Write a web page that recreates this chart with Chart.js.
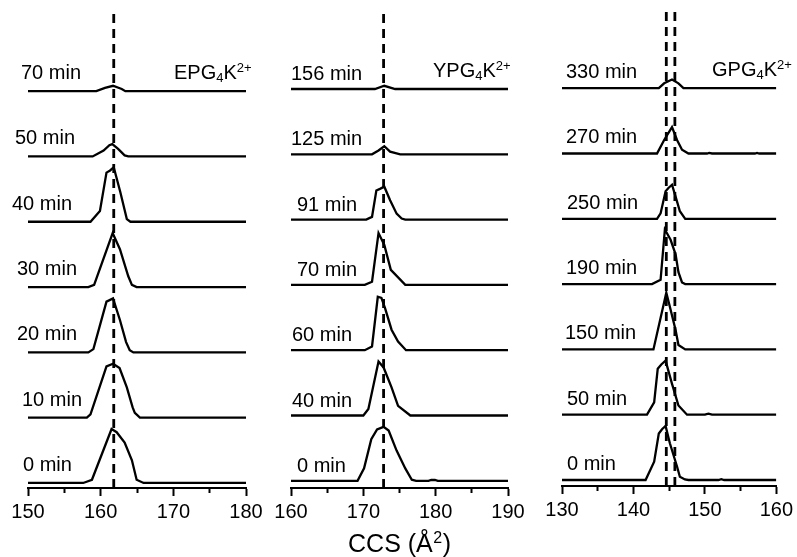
<!DOCTYPE html>
<html>
<head>
<meta charset="utf-8">
<script src="https://cdn.jsdelivr.net/npm/chart.js@4.4.1/dist/chart.umd.min.js"></script>
<style>
  html, body { margin: 0; padding: 0; background: #fff; }
  #wrap { position: relative; width: 797px; height: 557px; }
  #wrap canvas { position: absolute; left: 0; top: 0; }
</style>
</head>
<body>
<div id="wrap">
  <canvas id="epgChart" width="797" height="557"></canvas>
  <canvas id="ypgChart" width="797" height="557"></canvas>
  <canvas id="gpgChart" width="797" height="557"></canvas>
</div>
<script>
// ---- data: [CCS (A^2), relative intensity %] per trace, bottom trace first ----

// EPG4K2+
const epgRange = [150, 180];
const epgTimes = ['0 min', '10 min', '20 min', '30 min', '40 min', '50 min', '70 min'];
const epg0  = [[150,0],[157.6,0],[158.8,6],[161.5,100],[162.2,94],[163.3,75],[164.3,42],[164.95,6],[165.9,0],[180,0]];
const epg10 = [[150,0],[158.1,0],[158.6,6],[160.8,95],[161.7,100],[162.6,92],[163.6,56],[164.4,19],[164.7,9],[165.4,0],[180,0]];
const epg20 = [[150,0],[158.3,0],[159.0,6],[160.8,94],[161.7,100],[162.65,60],[163.5,19],[164.0,4],[164.5,0],[180,0]];
const epg30 = [[150,0],[158.3,0],[159.1,4],[161.65,100],[162.65,70],[163.8,20],[164.3,4],[164.95,0],[180,0]];
const epg40 = [[150,0],[158.6,0],[159.9,20],[160.8,91],[161.3,95],[161.8,101],[162.7,55],[163.6,5],[164.1,0],[180,0]];
const epg50 = [[150,0],[158.9,0],[160.4,11],[161.2,21],[161.6,23],[162.4,14],[163.3,2],[163.8,0],[180,0]];
const epg70 = [[150,0],[159.4,0],[160.6,6],[161.7,10],[162.9,4],[163.4,0],[180,0]];
const epgDash = [161.8];

// YPG4K2+
const ypgRange = [160, 190];
const ypgTimes = ['0 min', '40 min', '60 min', '70 min', '91 min', '125 min', '156 min'];
const ypg0   = [[160,0],[169.2,0],[170.1,23],[171.1,77],[171.9,95],[172.8,100],[173.5,93],[174.6,56],[175.8,23],[176.7,2],[177.3,0],[179.0,0],[179.4,1.5],[179.9,1.5],[180.3,0],[190,0]];
const ypg40  = [[160,0],[170.0,0],[170.7,12],[172.1,100],[172.8,89],[173.9,52],[174.8,18],[176.5,0],[190,0]];
const ypg60  = [[160,0],[170.2,0],[171.2,7],[172.0,99],[172.5,97],[173.0,78],[173.9,38],[174.8,16],[175.9,0],[190,0]];
const ypg70  = [[160,0],[170.2,0],[171.2,6],[172.1,96],[172.9,74],[173.8,28],[175.8,0],[190,0]];
const ypg91  = [[160,0],[170.4,0],[171.2,5],[171.8,54],[172.3,57],[172.9,61],[173.7,36],[174.6,11],[175.3,2],[175.8,0],[190,0]];
const ypg125 = [[160,0],[171.2,0],[172.1,7],[172.9,15],[173.7,5],[175.1,0],[190,0]];
const ypg156 = [[160,0],[171.6,0],[172.9,6],[174.4,0],[190,0]];
const ypgDash = [172.8];

// GPG4K2+
const gpgRange = [130, 160];
const gpgTimes = ['0 min', '50 min', '150 min', '190 min', '250 min', '270 min', '330 min'];
const gpg0   = [[130,0],[141.7,0],[142.9,34],[143.55,86],[144.0,94],[144.5,100],[145.1,68],[146.1,25],[146.5,6],[147.2,1],[147.7,0],[151.9,0],[152.3,1.5],[152.7,0],[160,0]];
const gpg50  = [[130,0],[141.9,0],[142.9,23],[143.4,85],[143.9,93],[144.5,100],[145.4,57],[146.3,17],[147.5,0],[150.0,0],[150.5,2],[151.0,0],[160,0]];
const gpg150 = [[130,0],[142.8,0],[144.6,105],[145.1,79],[145.9,36],[146.3,8],[147.25,0],[160,0]];
const gpg190 = [[130,0],[142.6,0],[143.8,8],[144.4,101],[145.2,82],[145.9,55],[146.3,22],[146.8,3],[147.25,0],[160,0]];
const gpg250 = [[130,0],[143.3,0],[143.8,10],[144.5,51],[144.9,57],[145.4,63],[145.9,41],[146.5,14],[147.25,0],[160,0]];
const gpg270 = [[130,0],[143.3,0],[144.3,25],[145.4,49],[146.1,25],[146.8,7],[147.7,0],[150.3,0],[150.6,1],[151.0,0],[157.0,0],[157.3,1],[157.6,0],[160,0]];
const gpg330 = [[130,0],[143.55,0],[144.3,9],[145.4,16],[146.3,9],[147.0,0],[160,0]];
const gpgDash = [144.6, 145.8];

// ---- layout ----
const W = 797, H = 557;
const TOP = 12;            // chart area top (px)
const SPACING = 65.3;      // px between stacked traces
const PEAK = 54 / 65.3;    // 100 % intensity in trace-spacing units
const FONT = '"Liberation Sans", Arial, sans-serif';
const TICK_SIZE = 20;
const AXIS_H = 8 + TICK_SIZE * 1.2 + 2 * 4;  // tick length + label line + padding

const panels = [
  { id: 'epgChart', range: epgRange, times: epgTimes, traces: [epg0, epg10, epg20, epg30, epg40, epg50, epg70],
    dash: epgDash, name: ['EPG', '4', 'K', '2+'], left: 28, right: 246, bottom: 488, base: 0.077,
    labelX: [-5, -6, -11, -11, -16, -13, -7], labelDy: 12, nameX: 174, nameY: 79 },
  { id: 'ypgChart', range: ypgRange, times: ypgTimes, traces: [ypg0, ypg40, ypg60, ypg70, ypg91, ypg125, ypg156],
    dash: ypgDash, name: ['YPG', '4', 'K', '2+'], left: 291, right: 508, bottom: 488, base: 0.11,
    labelX: [6, 1, 1, 6, 6, 0, 0], labelDy: 9, nameX: 433, nameY: 77, title: true },
  { id: 'gpgChart', range: gpgRange, times: gpgTimes, traces: [gpg0, gpg50, gpg150, gpg190, gpg250, gpg270, gpg330],
    dash: gpgDash, name: ['GPG', '4', 'K', '2+'], left: 562, right: 779, bottom: 486, base: 0.092,
    labelX: [5, 5, 3, 4, 5, 4, 4], labelDy: 10, nameX: 712, nameY: 76 }
];

// text labels, species names and axis title
const annotate = {
  id: 'annotate',
  afterDatasetsDraw(chart, args, opts) {
    const p = opts.panel;
    const ctx = chart.ctx;
    const ys = chart.scales.y;
    const area = chart.chartArea;
    ctx.save();
    ctx.fillStyle = '#000';
    ctx.textBaseline = 'alphabetic';
    ctx.textAlign = 'left';
    ctx.font = '20px ' + FONT;
    p.times.forEach((t, i) => {
      const y = ys.getPixelForValue(p.base + i);
      ctx.fillText(t, area.left + p.labelX[i], y - p.labelDy);
    });

    // species name with subscript / superscript
    let x = p.nameX;
    const big = '20px ' + FONT, small = '13px ' + FONT;
    ctx.font = big; ctx.fillText(p.name[0], x, p.nameY); x += ctx.measureText(p.name[0]).width;
    ctx.font = small; ctx.fillText(p.name[1], x, p.nameY + 3); x += ctx.measureText(p.name[1]).width;
    ctx.font = big; ctx.fillText(p.name[2], x, p.nameY); x += ctx.measureText(p.name[2]).width;
    ctx.font = small; ctx.fillText(p.name[3], x, p.nameY - 7);

    if (p.title) {
      // CCS (Å²) centred under the middle panel
      const by = 552;
      const main = '25px ' + FONT, sup = '16px ' + FONT;
      ctx.font = main;
      const w1 = ctx.measureText('CCS (Å').width;
      const w3 = ctx.measureText(')').width;
      ctx.font = sup;
      const w2 = ctx.measureText('2').width + 1;
      let tx = (area.left + area.right) / 2 - (w1 + w2 + w3) / 2;
      ctx.font = main; ctx.fillText('CCS (Å', tx, by); tx += w1;
      ctx.font = sup; ctx.fillText('2', tx + 0.5, by - 9); tx += w2;
      ctx.font = main; ctx.fillText(')', tx, by);
    }
    ctx.restore();
  }
};

panels.forEach(p => {
  const ymax = (p.bottom - TOP) / SPACING;
  const datasets = [];
  p.traces.forEach((tr, i) => {
    datasets.push({
      data: tr.map(pt => ({ x: pt[0], y: p.base + i + pt[1] / 100 * PEAK })),
      borderColor: '#000',
      borderWidth: 2.3,
      pointRadius: 0,
      tension: 0,
      fill: false
    });
  });
  p.dash.forEach(d => {
    datasets.push({
      data: [{ x: d, y: 0 }, { x: d, y: ymax }],
      borderColor: '#000',
      borderWidth: 2.8,
      borderDash: [9, 6],
      pointRadius: 0,
      fill: false
    });
  });

  new Chart(document.getElementById(p.id), {
    type: 'line',
    data: { datasets: datasets },
    options: {
      responsive: false,
      animation: false,
      events: [],
      layout: {
        padding: { left: p.left, right: W - p.right, top: TOP, bottom: H - p.bottom - AXIS_H }
      },
      plugins: {
        legend: { display: false },
        tooltip: { enabled: false },
        annotate: { panel: p }
      },
      scales: {
        x: {
          type: 'linear',
          min: p.range[0],
          max: p.range[1],
          border: { display: true, color: '#000', width: 2 },
          grid: {
            display: true,
            drawOnChartArea: false,
            drawTicks: true,
            tickLength: 8,
            tickWidth: 2,
            tickColor: '#000',
            tickBorderDash: (c) => (c.tick && c.tick.value % 10 !== 0) ? [4, 40] : []
          },
          ticks: {
            stepSize: 5,
            autoSkip: false,
            maxRotation: 0,
            padding: 4,
            color: '#000',
            font: { size: TICK_SIZE, family: FONT },
            callback: (v) => (v % 10 === 0 ? v : '')
          }
        },
        y: { display: false, min: 0, max: ymax }
      }
    },
    plugins: [annotate]
  });
});
</script>
</body>
</html>
